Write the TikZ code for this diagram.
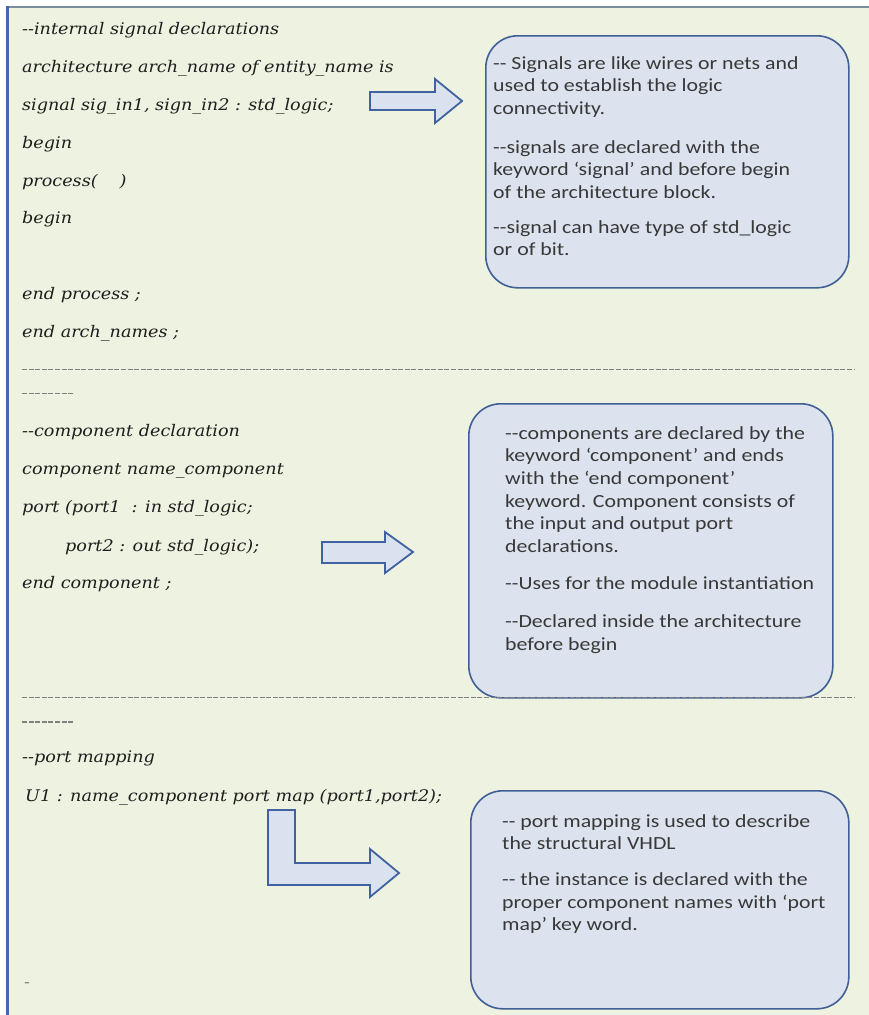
\documentclass[tikz,border=0pt]{standalone}
\usepackage{fontspec}
\setmainfont{Carlito}[FakeStretch=1.18]
\newfontfamily\codefont{DejaVu Serif}[FakeStretch=1.1]
\usetikzlibrary{positioning}

\definecolor{framefill}{HTML}{EEF2E1}
\definecolor{frametop}{HTML}{7A8C9E}
\definecolor{frameleft}{HTML}{4468B0}
\definecolor{boxfill}{HTML}{DCE3EE}
\definecolor{boxdraw}{HTML}{3F5F95}
\definecolor{arrowfill}{HTML}{DAE2F0}
\definecolor{arrowdraw}{HTML}{4062A0}
\definecolor{codegray}{HTML}{1E1E1E}
\definecolor{notegray}{HTML}{383838}

\begin{document}
\begin{tikzpicture}[
    x=1pt, y=-1pt,
    codeline/.style={anchor=west, inner sep=0pt, text height=11pt, text depth=3pt,
      font=\codefont\itshape\fontsize{16}{19}\selectfont, text=codegray},
    notebox/.style={draw=boxdraw, line width=1.6pt, fill=boxfill, rounded corners=32pt},
    notetext/.style={anchor=north west, inner sep=0pt, align=left, text=notegray,
      font=\fontsize{18.5}{22.7}\selectfont},
    blockarrow/.style={draw=arrowdraw, line width=1.8pt, fill=arrowfill, line join=miter},
    sepline/.style={draw=gray, line width=0.8pt, dash pattern=on 5pt off 1.6pt}
  ]
    \useasboundingbox (0,0) rectangle (869,1015);
    % frame
    \fill[framefill] (7,7) rectangle (869,1015);
    \draw[frametop, line width=2pt] (7,7) -- (869,7);
    \draw[frameleft, line width=3pt] (7,6) -- (7,1015);

    % internal signals
    \node[codeline] (sigcomment) at (22,30) {-{}-internal signal declarations};
    \node[codeline] (archline) at (22,68) {architecture arch\_name of entity\_name is};
    \node[codeline] (sigline) at (22,106) {signal sig\_in1, sign\_in2 : std\_logic;};
    \node[codeline] (archbegin) at (22,144) {begin};
    \node[codeline] (procline) at (22,182) {process(\hspace{22pt})};
    \node[codeline] (procbegin) at (22,219) {begin};
    \node[codeline] (procend) at (22,295) {end process ;};
    \node[codeline] (archend) at (22,333) {end arch\_names ;};

    \node[notebox, anchor=north west, minimum width=363pt, minimum height=252pt] (sigbox) at (485,35) {};
    \node[notetext] (sigtext) at (493,56) {-{}- Signals are like wires or nets and\\
      used to establish the logic\\
      connectivity.\\[16pt]
      -{}-signals are declared with the\\
      keyword ‘signal’ and before begin\\
      of the architecture block.\\[12pt]
      -{}-signal can have type of std\_logic\\
      or of bit.};
    \draw[blockarrow] (370,92) -- (435,92) -- (435,79) -- (462,101) -- (435,123)
      -- (435,110) -- (370,110) -- cycle;

    \draw[sepline] (22,369) -- (855,369);
    \draw[sepline] (22,393) -- (73,393);

    % component declaration
    \node[codeline] (compcomment) at (22,432) {-{}-component declaration};
    \node[codeline] (compline) at (22,470) {component name\_component};
    \node[codeline] (portone) at (22,508) {port (port1~ : in std\_logic;};
    \node[codeline] (porttwo) at (65,547) {port2 : out std\_logic);};
    \node[codeline] (compend) at (22,584) {end component ;};

    \node[notebox, anchor=north west, minimum width=364pt, minimum height=294pt] (compbox) at (468,403) {};
    \node[notetext] (comptext) at (505,426) {-{}-components are declared by the\\
      keyword ‘component’ and ends\\
      with the ‘end component’\\
      keyword. Component consists of\\
      the input and output port\\
      declarations.\\[14pt]
      -{}-Uses for the module instantiation\\[16pt]
      -{}-Declared inside the architecture\\
      before begin};
    \draw[blockarrow] (322,542) -- (385,542) -- (385,532) -- (413,552) -- (385,573)
      -- (385,563) -- (322,563) -- cycle;

    \draw[sepline] (22,697) -- (855,697);
    \draw[sepline, line width=1.3pt] (22,722) -- (73,722);

    % port mapping
    \node[codeline] (mapcomment) at (22,758) {-{}-port mapping};
    \node[codeline] (mapline) at (25,797) {U1 : name\_component port map (port1,port2);};
    \node[codeline, text=gray] (tailmark) at (24,983) {-};

    \node[notebox, anchor=north west, minimum width=378pt, minimum height=218pt] (mapbox) at (470,790) {};
    \node[notetext] (maptext) at (502,814) {-{}- port mapping is used to describe\\
      the structural VHDL\\[13pt]
      -{}- the instance is declared with the\\
      proper component names with ‘port\\
      map’ key word.};
    \draw[blockarrow] (268,810) -- (295,810) -- (295,863) -- (370,863) -- (370,849)
      -- (399,873) -- (370,897) -- (370,885) -- (268,885) -- cycle;
  \end{tikzpicture}
\end{document}
